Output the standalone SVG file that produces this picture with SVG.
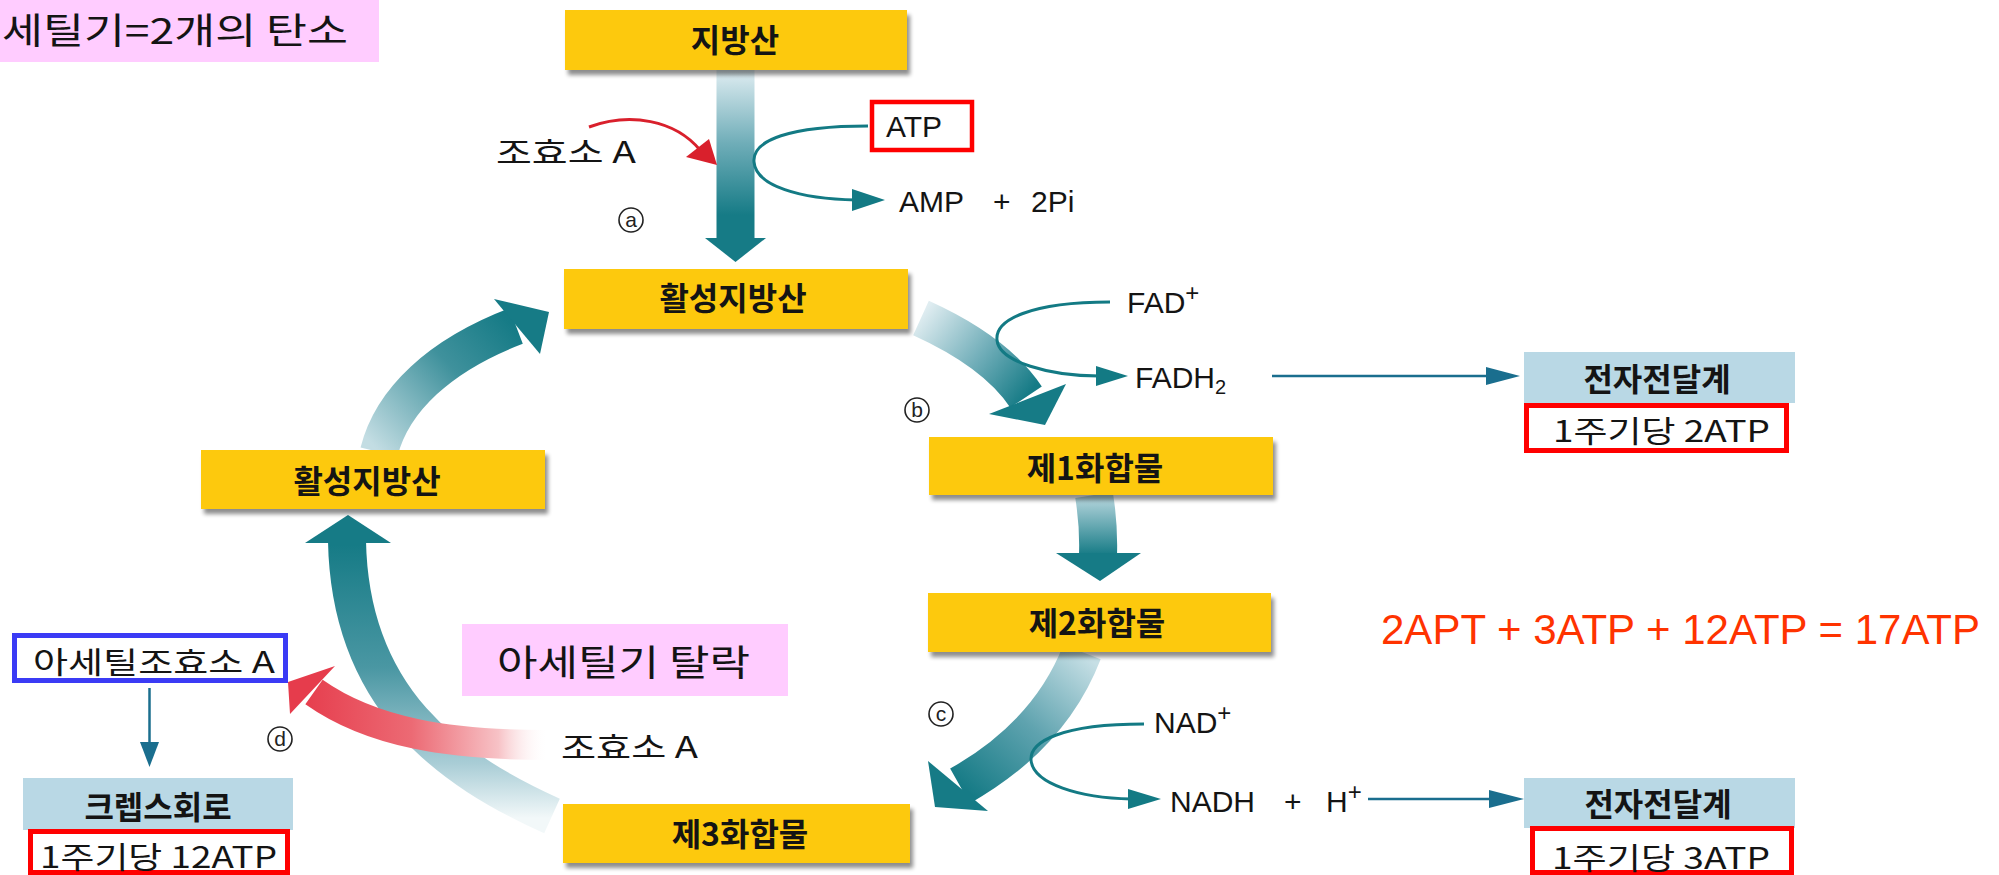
<svg xmlns="http://www.w3.org/2000/svg" width="1999" height="875" viewBox="0 0 1999 875">
  <defs>
    <style>
      .box { fill: #fdc90e; filter: url(#sh); }
      .lbl { font-family: "Noto Sans CJK KR", sans-serif; font-weight: 700; font-size: 32px; fill: #141414; text-anchor: middle; }
      .ko { font-family: "Noto Sans CJK KR", sans-serif; font-weight: 400; font-size: 30px; fill: #141414; }
      .lat { font-family: "Liberation Sans", Arial, sans-serif; font-size: 30px; fill: #141414; }
      .etc { fill: #b9d8e5; }
      .redbox { fill: #ffffff; stroke: #ff0000; stroke-width: 5; }
      .thin { fill: none; stroke: #137a84; stroke-width: 3; }
      .thinb { fill: none; stroke: #1a6e8e; stroke-width: 2.5; }
      .headt { fill: #137a84; }
      .headb { fill: #1a6e8e; }
      .big { fill: #167b86; }
      .pink { fill: #ffccff; }
      .circ { fill: none; stroke: #222; stroke-width: 1.6; }
      .cl { font-family: "Liberation Sans", Arial, sans-serif; font-size: 21px; fill: #222; text-anchor: middle; }
    </style>
    <filter id="sh" x="-5%" y="-15%" width="115%" height="145%">
      <feGaussianBlur in="SourceAlpha" stdDeviation="2"/>
      <feOffset dx="3" dy="5"/>
      <feComponentTransfer><feFuncA type="linear" slope="0.45"/></feComponentTransfer>
      <feMerge><feMergeNode/><feMergeNode in="SourceGraphic"/></feMerge>
    </filter>
    <!-- teal shading: pale at the tail, dark near the head -->
    <linearGradient id="gTop" gradientUnits="userSpaceOnUse" x1="0" y1="72" x2="0" y2="215">
      <stop offset="0" stop-color="#dcebf0"/>
      <stop offset="0.5" stop-color="#6fadb8"/>
      <stop offset="1" stop-color="#167b86"/>
    </linearGradient>
    <linearGradient id="gB" gradientUnits="userSpaceOnUse" x1="920" y1="316" x2="1025" y2="398">
      <stop offset="0" stop-color="#e0edf1"/>
      <stop offset="0.55" stop-color="#6fadb8"/>
      <stop offset="1" stop-color="#167b86"/>
    </linearGradient>
    <linearGradient id="g12" gradientUnits="userSpaceOnUse" x1="0" y1="497" x2="0" y2="555">
      <stop offset="0" stop-color="#b5d5dd"/>
      <stop offset="1" stop-color="#167b86"/>
    </linearGradient>
    <linearGradient id="gC" gradientUnits="userSpaceOnUse" x1="1082" y1="652" x2="962" y2="786">
      <stop offset="0" stop-color="#c6dfe5"/>
      <stop offset="0.5" stop-color="#5fa3af"/>
      <stop offset="1" stop-color="#167b86"/>
    </linearGradient>
    <linearGradient id="gTL" gradientUnits="userSpaceOnUse" x1="379" y1="452" x2="514" y2="327">
      <stop offset="0" stop-color="#c3dde3"/>
      <stop offset="0.6" stop-color="#3f919c"/>
      <stop offset="1" stop-color="#167b86"/>
    </linearGradient>
    <linearGradient id="gL" gradientUnits="userSpaceOnUse" x1="0" y1="545" x2="0" y2="818">
      <stop offset="0" stop-color="#167b86"/>
      <stop offset="0.45" stop-color="#4a97a3"/>
      <stop offset="0.8" stop-color="#a9cdd6"/>
      <stop offset="1" stop-color="#f2f8f9"/>
    </linearGradient>
    <linearGradient id="gR" gradientUnits="userSpaceOnUse" x1="300" y1="0" x2="548" y2="0">
      <stop offset="0" stop-color="#e63c4c"/>
      <stop offset="0.45" stop-color="#ec6a74"/>
      <stop offset="0.8" stop-color="#f7c2c6"/>
      <stop offset="1" stop-color="#ffffff" stop-opacity="0"/>
    </linearGradient>
  </defs>

  <rect width="1999" height="875" fill="#ffffff"/>

  <!-- notes -->
  <g id="note-carbon">
    <rect class="pink" x="0" y="0" width="379" height="62"/>
    <text x="2" y="44" font-family="Noto Sans CJK KR, sans-serif" font-size="36" fill="#141414" textLength="346" lengthAdjust="spacingAndGlyphs">세틸기=2개의 탄소</text>
  </g>
  <g id="note-acetyl">
    <rect class="pink" x="462" y="624" width="326" height="72"/>
    <text x="497" y="676" font-family="Noto Sans CJK KR, sans-serif" font-size="36" fill="#141414" textLength="253" lengthAdjust="spacingAndGlyphs">아세틸기 탈락</text>
  </g>
  <g id="note-total">
    <text x="1381" y="644" font-family="Liberation Sans, Arial, sans-serif" font-size="43" fill="#ff3300" textLength="599" lengthAdjust="spacingAndGlyphs">2APT + 3ATP + 12ATP = 17ATP</text>
  </g>

  <!-- connectors -->
  <g id="connectors">
    <!-- fatty acid activation -->
    <rect x="716.5" y="70" width="38" height="169" fill="url(#gTop)"/>
    <polygon class="big" points="705,238 766,238 735.5,262"/>
    <!-- activated fatty acid to compound 1 -->
    <path d="M 921,318 Q 996,352 1026,397" fill="none" stroke="url(#gB)" stroke-width="38"/>
    <polygon class="big" points="989,414 1066,384 1045,425"/>
    <!-- compound 1 to compound 2 -->
    <path d="M 1094,495 Q 1099,525 1098,555" fill="none" stroke="url(#g12)" stroke-width="38"/>
    <polygon class="big" points="1056,553 1141,553 1100,581"/>
    <!-- compound 2 to compound 3 -->
    <path d="M 1082,652 Q 1050,735 960,786" fill="none" stroke="url(#gC)" stroke-width="40"/>
    <polygon class="big" points="928,761 988,811 935,807"/>
    <!-- compound 3 back to activated fatty acid (left) -->
    <path d="M 552,816 C 450,770 350,700 347,541" fill="none" stroke="url(#gL)" stroke-width="38"/>
    <polygon class="big" points="305,543 391,543 348,515"/>
    <!-- left activated fatty acid to top activated fatty acid -->
    <path d="M 379,452 C 392,400 440,355 516,326" fill="none" stroke="url(#gTL)" stroke-width="38"/>
    <polygon class="big" points="494,299 549,312 540,354"/>
    <!-- acetyl group release -->
    <path d="M 548,745 C 450,745 372,733 314,692" fill="none" stroke="url(#gR)" stroke-width="30"/>
    <polygon fill="#e63c4c" points="335,666 288,682 290,714"/>

    <!-- coenzyme A joining -->
    <path d="M 589,127 C 630,112 675,120 700,150" fill="none" stroke="#d9202c" stroke-width="3"/>
    <polygon fill="#d9202c" points="686,157 709,139 717,165"/>
    <!-- ATP to AMP + 2Pi -->
    <path class="thin" d="M 868,126 C 790,126 752,140 754,162 C 756,186 800,199 856,200"/>
    <polygon class="headt" points="852,189 885,200 852,211"/>
    <!-- FAD to FADH2 -->
    <path class="thin" d="M 1110,302 C 1030,302 995,320 997,340 C 999,362 1050,376 1099,376"/>
    <polygon class="headt" points="1096,366 1128,376 1096,386"/>
    <!-- NAD to NADH -->
    <path class="thin" d="M 1144,724 C 1060,724 1030,742 1031,760 C 1033,784 1080,798 1131,799"/>
    <polygon class="headt" points="1128,789 1161,799 1128,809"/>
    <!-- to electron transport -->
    <line class="thinb" x1="1272" y1="376" x2="1490" y2="376"/>
    <polygon class="headb" points="1486,367 1520,376 1486,385"/>
    <line class="thinb" x1="1368" y1="799" x2="1492" y2="799"/>
    <polygon class="headb" points="1489,790 1524,799 1489,808"/>
    <!-- acetyl CoA to Krebs cycle -->
    <line class="thinb" x1="149.5" y1="688" x2="149.5" y2="745"/>
    <polygon class="headb" points="140,742 159,742 149.5,767"/>
  </g>

  <!-- main pathway nodes -->
  <g id="fatty-acid">
    <rect class="box" x="565" y="10" width="342" height="60"/>
    <text class="lbl" x="735" y="52">지방산</text>
  </g>
  <g id="activated-fatty-acid-top">
    <rect class="box" x="564" y="269" width="344" height="60"/>
    <text class="lbl" x="733" y="310">활성지방산</text>
  </g>
  <g id="activated-fatty-acid-left">
    <rect class="box" x="201" y="450" width="344" height="59"/>
    <text class="lbl" x="367" y="493">활성지방산</text>
  </g>
  <g id="compound-1">
    <rect class="box" x="929" y="437" width="344" height="58"/>
    <text class="lbl" x="1095" y="480">제1화합물</text>
  </g>
  <g id="compound-2">
    <rect class="box" x="928" y="593" width="343" height="59"/>
    <text class="lbl" x="1097" y="635">제2화합물</text>
  </g>
  <g id="compound-3">
    <rect class="box" x="563" y="804" width="347" height="59"/>
    <text class="lbl" x="740" y="846">제3화합물</text>
  </g>

  <!-- side products -->
  <g id="atp">
    <rect x="872" y="102" width="100" height="48" fill="#ffffff" stroke="#ff0000" stroke-width="4.5"/>
    <text class="lat" x="886" y="137" font-size="31">ATP</text>
  </g>
  <g id="amp">
    <text class="lat" y="212" font-size="31"><tspan x="899">AMP</tspan><tspan x="993">+</tspan><tspan x="1031">2Pi</tspan></text>
  </g>
  <g id="coa-in">
    <text class="ko" x="496" y="163" textLength="140" lengthAdjust="spacingAndGlyphs">조효소 A</text>
  </g>
  <g id="coa-out">
    <text class="ko" x="561" y="758" textLength="137" lengthAdjust="spacingAndGlyphs">조효소 A</text>
  </g>
  <g id="fad">
    <text class="lat" x="1127" y="313">FAD<tspan font-size="24" dy="-12">+</tspan></text>
  </g>
  <g id="fadh2">
    <text class="lat" x="1135" y="388">FADH<tspan font-size="20" dy="6">2</tspan></text>
  </g>
  <g id="nad">
    <text class="lat" x="1154" y="733">NAD<tspan font-size="24" dy="-12">+</tspan></text>
  </g>
  <g id="nadh">
    <text class="lat" y="812"><tspan x="1170">NADH</tspan><tspan x="1284">+</tspan><tspan x="1326">H</tspan><tspan font-size="24" dy="-12">+</tspan></text>
  </g>

  <!-- step markers -->
  <g id="step-a">
    <circle class="circ" cx="631" cy="220" r="12"/>
    <text class="cl" x="631" y="227">a</text>
  </g>
  <g id="step-b">
    <circle class="circ" cx="917" cy="410" r="12"/>
    <text class="cl" x="917" y="417">b</text>
  </g>
  <g id="step-c">
    <circle class="circ" cx="941" cy="714" r="12"/>
    <text class="cl" x="941" y="721">c</text>
  </g>
  <g id="step-d">
    <circle class="circ" cx="280" cy="739" r="12"/>
    <text class="cl" x="280" y="746">d</text>
  </g>

  <!-- electron transport (FADH2) -->
  <g id="etc-fadh2">
    <rect class="etc" x="1524" y="352" width="271" height="51"/>
    <text class="lbl" x="1657" y="391">전자전달계</text>
    <rect class="redbox" x="1526.5" y="405.5" width="260" height="45"/>
    <text class="ko" x="1553" y="442" font-size="32" textLength="217" lengthAdjust="spacingAndGlyphs">1주기당 2ATP</text>
  </g>
  <!-- electron transport (NADH) -->
  <g id="etc-nadh">
    <rect class="etc" x="1524" y="778" width="271" height="50"/>
    <text class="lbl" x="1658" y="816">전자전달계</text>
    <rect class="redbox" x="1532.5" y="828.5" width="259" height="44"/>
    <text class="ko" x="1552" y="869" font-size="32" textLength="218" lengthAdjust="spacingAndGlyphs">1주기당 3ATP</text>
  </g>
  <!-- acetyl CoA and Krebs cycle -->
  <g id="acetyl-coa">
    <rect x="14.5" y="635.5" width="271" height="45" fill="#ffffff" stroke="#3b3bf5" stroke-width="5"/>
    <text class="ko" x="33" y="673" textLength="242" lengthAdjust="spacingAndGlyphs">아세틸조효소 A</text>
  </g>
  <g id="krebs">
    <rect class="etc" x="23" y="778" width="270" height="52"/>
    <text class="lbl" x="158" y="819">크렙스회로</text>
    <rect class="redbox" x="30.5" y="831.5" width="257" height="41"/>
    <text class="ko" x="40" y="868" font-size="32" textLength="237" lengthAdjust="spacingAndGlyphs">1주기당 12ATP</text>
  </g>
</svg>
